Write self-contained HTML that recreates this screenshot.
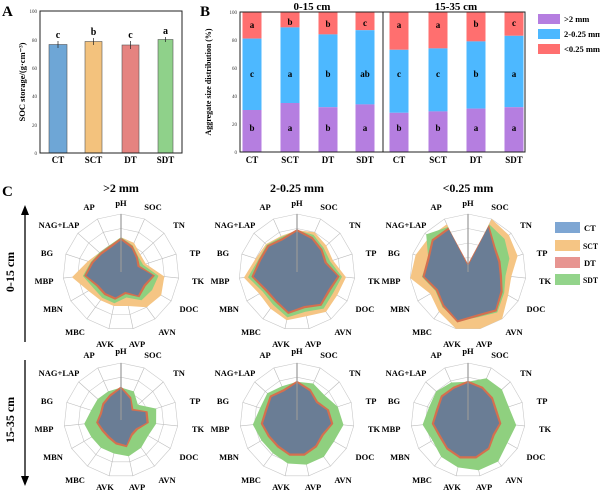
<!DOCTYPE html>
<html><head><meta charset="utf-8"><style>
body{margin:0;background:#fff;}
svg{font-family:"Liberation Serif",serif;}
.b{font-weight:bold;}
</style></head><body>
<svg id="s" width="600" height="495" viewBox="0 0 600 495" xmlns="http://www.w3.org/2000/svg">
<!-- Panel A -->
<text x="2" y="16" class="b" font-size="15">A</text>
<g font-size="5" fill="#333" text-anchor="end">
<text x="37" y="13">100</text><text x="37" y="42">80</text><text x="37" y="70">60</text><text x="37" y="98">40</text><text x="37" y="127">20</text><text x="37" y="155">0</text>
</g>
<rect x="49" y="44.5" width="18" height="108.5" fill="#6ea6d6" stroke="#555" stroke-width="0.6"/>
<rect x="85" y="41.5" width="17" height="111.5" fill="#f3c27d" stroke="#555" stroke-width="0.6"/>
<rect x="122" y="45" width="17" height="108" fill="#e58380" stroke="#555" stroke-width="0.6"/>
<rect x="158" y="39.5" width="15" height="113.5" fill="#8fd18a" stroke="#555" stroke-width="0.6"/>
<g stroke="#222" stroke-width="0.7">
<line x1="58" y1="41" x2="58" y2="48"/><line x1="93.5" y1="38" x2="93.5" y2="45"/><line x1="130.5" y1="41" x2="130.5" y2="49"/><line x1="165.5" y1="37" x2="165.5" y2="42"/>
</g>
<g class="b" font-size="10" text-anchor="middle">
<text x="58" y="38">c</text><text x="93.5" y="35">b</text><text x="130.5" y="38">c</text><text x="165.5" y="34">a</text>
</g>
<rect x="40" y="11" width="142" height="142" fill="none" stroke="#222" stroke-width="1"/>
<g class="b" font-size="9" text-anchor="middle">
<text x="58" y="163">CT</text><text x="93.5" y="163">SCT</text><text x="130.5" y="163">DT</text><text x="165.5" y="163">SDT</text>
</g>
<text class="b" font-size="8.5" transform="translate(25,82) rotate(-90)" text-anchor="middle">SOC storage/(g·cm⁻³)</text>

<!-- Panel B -->
<text x="200" y="16" class="b" font-size="15">B</text>
<g font-size="5" fill="#333" text-anchor="end">
<text x="237" y="14">100</text><text x="237" y="42">80</text><text x="237" y="70">60</text><text x="237" y="98">40</text><text x="237" y="126">20</text><text x="237" y="154">0</text>
</g>
<g id="bbars"></g>
<line x1="383" y1="12" x2="383" y2="152" stroke="#222" stroke-width="1"/>
<rect x="240" y="12" width="285" height="140" fill="none" stroke="#222" stroke-width="1"/>
<text x="312" y="10" class="b" font-size="11" text-anchor="middle">0-15 cm</text>
<text x="456" y="10" class="b" font-size="11" text-anchor="middle">15-35 cm</text>
<g class="b" font-size="9" text-anchor="middle">
<text x="252" y="163">CT</text><text x="290" y="163">SCT</text><text x="328" y="163">DT</text><text x="365" y="163">SDT</text>
<text x="399" y="163">CT</text><text x="438" y="163">SCT</text><text x="476" y="163">DT</text><text x="514" y="163">SDT</text>
</g>
<g class="b" font-size="9" text-anchor="middle">
<text x="252" y="28">a</text><text x="290" y="25">b</text><text x="328" y="27">b</text><text x="365" y="26">c</text>
<text x="399" y="28">a</text><text x="438" y="28">a</text><text x="476" y="27">b</text><text x="514" y="26">c</text>
<text x="252" y="77">c</text><text x="290" y="77">a</text><text x="328" y="77">b</text><text x="365" y="77">ab</text>
<text x="399" y="77">c</text><text x="438" y="77">c</text><text x="476" y="77">b</text><text x="514" y="77">a</text>
<text x="252" y="131">b</text><text x="290" y="131">a</text><text x="328" y="131">b</text><text x="365" y="131">a</text>
<text x="399" y="131">b</text><text x="438" y="131">b</text><text x="476" y="131">a</text><text x="514" y="131">a</text>
</g>
<text class="b" font-size="8" transform="translate(211,82) rotate(-90)" text-anchor="middle">Aggregate size distribution (%)</text>
<rect x="538" y="14" width="22" height="10" fill="#b57ee0"/>
<rect x="538" y="29" width="22" height="10" fill="#4db8ff"/>
<rect x="538" y="44" width="22" height="10" fill="#ff6f6f"/>
<g class="b" font-size="8.5"><text x="564" y="22">&gt;2 mm</text><text x="564" y="37">2-0.25 mm</text><text x="564" y="52">&lt;0.25 mm</text></g>

<!-- Panel C -->
<text x="2" y="196" class="b" font-size="15">C</text>
<g class="b" font-size="12" text-anchor="middle">
<text x="121" y="192">&gt;2 mm</text><text x="297" y="192">2-0.25 mm</text><text x="468" y="192">&lt;0.25 mm</text>
</g>
<line x1="25" y1="342" x2="25" y2="214" stroke="#000" stroke-width="1.3"/>
<polygon points="25,205 21,215 29,215" fill="#000"/>
<text class="b" font-size="12" transform="translate(14,272) rotate(-90)" text-anchor="middle">0-15 cm</text>
<line x1="25" y1="360" x2="25" y2="476" stroke="#000" stroke-width="1.3"/>
<polygon points="25,486 21,476 29,476" fill="#000"/>
<text class="b" font-size="12" transform="translate(14,420) rotate(-90)" text-anchor="middle">15-35 cm</text>

<g id="r1" transform="translate(121,272)"></g>
<g id="r2" transform="translate(297,272)"></g>
<g id="r3" transform="translate(468,272)"></g>
<g id="r4" transform="translate(121,420)"></g>
<g id="r5" transform="translate(297,420)"></g>
<g id="r6" transform="translate(468,420)"></g>

<g class="b" font-size="8.5" text-anchor="middle">
<g transform="translate(121,272)">
<text x="0" y="-66">pH</text><text x="32" y="-62">SOC</text><text x="58" y="-44">TN</text><text x="74" y="-16">TP</text><text x="77" y="12">TK</text><text x="68" y="40">DOC</text><text x="46" y="63">AVN</text><text x="16" y="75">AVP</text><text x="-16" y="75">AVK</text><text x="-46" y="63">MBC</text><text x="-68" y="40">MBN</text><text x="-77" y="12">MBP</text><text x="-74" y="-16">BG</text><text x="-62" y="-44">NAG+LAP</text><text x="-32" y="-62">AP</text>
</g>
<g transform="translate(297,272)">
<text x="0" y="-66">pH</text><text x="32" y="-62">SOC</text><text x="58" y="-44">TN</text><text x="74" y="-16">TP</text><text x="77" y="12">TK</text><text x="68" y="40">DOC</text><text x="46" y="63">AVN</text><text x="16" y="75">AVP</text><text x="-16" y="75">AVK</text><text x="-46" y="63">MBC</text><text x="-68" y="40">MBN</text><text x="-77" y="12">MBP</text><text x="-74" y="-16">BG</text><text x="-62" y="-44">NAG+LAP</text><text x="-32" y="-62">AP</text>
</g>
<g transform="translate(468,272)">
<text x="0" y="-66">pH</text><text x="32" y="-62">SOC</text><text x="58" y="-44">TN</text><text x="74" y="-16">TP</text><text x="77" y="12">TK</text><text x="68" y="40">DOC</text><text x="46" y="63">AVN</text><text x="16" y="75">AVP</text><text x="-16" y="75">AVK</text><text x="-46" y="63">MBC</text><text x="-68" y="40">MBN</text><text x="-77" y="12">MBP</text><text x="-74" y="-16">BG</text><text x="-62" y="-44">NAG+LAP</text><text x="-32" y="-62">AP</text>
</g>
<g transform="translate(121,420)">
<text x="0" y="-66">pH</text><text x="32" y="-62">SOC</text><text x="58" y="-44">TN</text><text x="74" y="-16">TP</text><text x="77" y="12">TK</text><text x="68" y="40">DOC</text><text x="46" y="63">AVN</text><text x="16" y="70">AVP</text><text x="-16" y="70">AVK</text><text x="-46" y="63">MBC</text><text x="-68" y="40">MBN</text><text x="-77" y="12">MBP</text><text x="-74" y="-16">BG</text><text x="-62" y="-44">NAG+LAP</text><text x="-32" y="-62">AP</text>
</g>
<g transform="translate(297,420)">
<text x="0" y="-66">pH</text><text x="32" y="-62">SOC</text><text x="58" y="-44">TN</text><text x="74" y="-16">TP</text><text x="77" y="12">TK</text><text x="68" y="40">DOC</text><text x="46" y="63">AVN</text><text x="16" y="70">AVP</text><text x="-16" y="70">AVK</text><text x="-46" y="63">MBC</text><text x="-68" y="40">MBN</text><text x="-77" y="12">MBP</text><text x="-74" y="-16">BG</text><text x="-62" y="-44">NAG+LAP</text><text x="-32" y="-62">AP</text>
</g>
<g transform="translate(468,420)">
<text x="0" y="-66">pH</text><text x="32" y="-62">SOC</text><text x="58" y="-44">TN</text><text x="74" y="-16">TP</text><text x="77" y="12">TK</text><text x="68" y="40">DOC</text><text x="46" y="63">AVN</text><text x="16" y="70">AVP</text><text x="-16" y="70">AVK</text><text x="-46" y="63">MBC</text><text x="-68" y="40">MBN</text><text x="-77" y="12">MBP</text><text x="-74" y="-16">BG</text><text x="-62" y="-44">NAG+LAP</text><text x="-32" y="-62">AP</text>
</g>
</g>

<rect x="555" y="222" width="25" height="11" fill="#7ea6d3"/>
<rect x="555" y="240" width="25" height="11" fill="#f5c584"/>
<rect x="555" y="257" width="25" height="11" fill="#e79591"/>
<rect x="555" y="274" width="25" height="11" fill="#93d48b"/>
<g class="b" font-size="8.5"><text x="584" y="231">CT</text><text x="583" y="249" textLength="15" lengthAdjust="spacingAndGlyphs">SCT</text><text x="584" y="266">DT</text><text x="583" y="283" textLength="15" lengthAdjust="spacingAndGlyphs">SDT</text></g>
</svg>
<script>
var NS="http://www.w3.org/2000/svg";
function el(p,t,a){var e=document.createElementNS(NS,t);for(var k in a)e.setAttribute(k,a[k]);p.appendChild(e);return e;}
var bb=document.getElementById("bbars");
var cx=[252,290,328,365,399,438,476,514];
var pu=[30,35,32,34,28,29,31,32], bl=[81,89,84,87,73,74,79,83];
function yy(v){return 152-v*1.4;}
cx.forEach(function(c,i){
 var x=c-9.5,w=19;
 el(bb,"rect",{x:x,y:12,width:w,height:yy(bl[i])-12,fill:"#ff6f6f"});
 el(bb,"rect",{x:x,y:yy(bl[i]),width:w,height:yy(pu[i])-yy(bl[i]),fill:"#4db8ff"});
 el(bb,"rect",{x:x,y:yy(pu[i]),width:w,height:152-yy(pu[i]),fill:"#b57ee0"});
});
function add(a,d){return a.map(function(v,i){return Math.min(1,v+d);});}
var R=[
 {r:58,ct:[.55,.45,.35,.3,.55,.45,.5,.35,.45,.45,.45,.6,.5,.45,.45],
  sct:[.6,.55,.45,.45,.75,.8,.75,.6,.6,.6,.65,.85,.6,.5,.5],
  sdt:[.6,.5,.4,.4,.65,.62,.6,.45,.55,.55,.55,.66,.55,.5,.5]},
 {r:58,ct:[.7,.62,.55,.5,.7,.62,.68,.6,.7,.6,.6,.75,.65,.65,.6],
  sct:[.72,.75,.68,.65,.85,.8,.85,.78,.85,.78,.75,.92,.75,.72,.68],
  sdt:[.72,.7,.62,.6,.78,.72,.78,.7,.8,.7,.68,.85,.7,.7,.66]},
 {r:58,ct:[.1,.85,.6,.55,.55,.65,.8,.75,.85,.7,.6,.75,.7,.8,.8],
  sct:[.1,1,.95,.9,.75,.8,1,1,1,.85,.75,1,.95,.9,.9],
  sdt:[.1,.9,.85,.75,.65,.72,.86,.8,.86,.75,.65,.8,.72,.97,.85]},
 {r:57,ct:[.55,.4,.25,.45,.45,.3,.3,.45,.4,.35,.35,.4,.35,.4,.45],
  sct:[.57,.5,.32,.55,.55,.4,.42,.55,.5,.45,.45,.55,.45,.47,.5],
  sdt:[.57,.55,.4,.65,.62,.55,.6,.65,.6,.6,.6,.65,.55,.55,.55]},
 {r:57,ct:[.65,.55,.45,.55,.6,.5,.55,.6,.6,.55,.55,.6,.55,.6,.55],
  sct:[.67,.62,.55,.65,.7,.6,.65,.7,.7,.62,.62,.7,.6,.65,.6],
  sdt:[.67,.7,.65,.75,.82,.75,.8,.8,.78,.72,.72,.78,.68,.7,.65]},
 {r:57,ct:[.65,.6,.55,.5,.55,.5,.6,.65,.65,.6,.55,.6,.55,.6,.6],
  sct:[.67,.7,.65,.6,.65,.6,.7,.75,.75,.68,.62,.7,.62,.65,.65],
  sdt:[.67,.8,.8,.75,.85,.8,.9,.9,.85,.8,.72,.8,.72,.75,.72]}
];
R.forEach(function(d,k){
 var g=document.getElementById("r"+(k+1)), r=d.r;
 function pts(v){return v.map(function(x,i){var a=i*24*Math.PI/180;return (Math.sin(a)*x*r).toFixed(1)+","+(-Math.cos(a)*x*r).toFixed(1);}).join(" ");}
 var one=[];for(var i=0;i<15;i++)one.push(1);
 [.25,.5,.75,1].forEach(function(f){el(g,"polygon",{points:pts(one.map(function(){return f;})),fill:"none",stroke:"#c8c8c8","stroke-width":.6});});
 for(var i=0;i<15;i++){var a=i*24*Math.PI/180;el(g,"line",{x1:0,y1:0,x2:Math.sin(a)*r,y2:-Math.cos(a)*r,stroke:"#bbb","stroke-width":.6});}
 el(g,"polygon",{points:pts(d.sct),fill:"#f5c584"});
 el(g,"polygon",{points:pts(d.sdt),fill:"#8fd07f"});
 el(g,"polygon",{points:pts(add(d.ct,.04)),fill:"#d4704f"});
 el(g,"polygon",{points:pts(d.ct),fill:"#6a7d95"});
 el(g,"line",{x1:0,y1:0,x2:0,y2:-r,stroke:"#999","stroke-width":1.2});
});
</script>
</body></html>
